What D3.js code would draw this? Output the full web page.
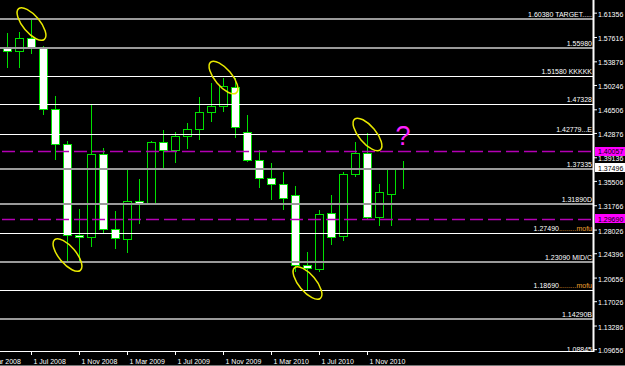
<!DOCTYPE html>
<html><head><meta charset="utf-8">
<script src="https://cdn.jsdelivr.net/npm/d3@7"></script>
<style>
html,body{margin:0;padding:0;background:#000;overflow:hidden;}
svg{display:block;}
text{font-family:"Liberation Sans",Arial,sans-serif;}
</style></head><body>
<svg id="c" width="625" height="366"></svg>
<script>
// ---- data ----
const periods = ["2008-05","2008-06","2008-07","2008-08","2008-09","2008-10","2008-11","2008-12",
  "2009-01","2009-02","2009-03","2009-04","2009-05","2009-06","2009-07","2009-08","2009-09","2009-10","2009-11","2009-12",
  "2010-01","2010-02","2010-03","2010-04","2010-05","2010-06","2010-07","2010-08","2010-09","2010-10","2010-11","2010-12",
  "2011-01","2011-02"];
const opens  = [1.5590,1.5545,1.5746,1.5592,1.4655,1.4110,1.2720,1.2689,
  1.3964,1.2812,1.2665,1.3242,1.3211,1.4148,1.4025,1.4241,1.4348,1.4609,1.4701,1.5000,
  1.4302,1.3872,1.3595,1.3503,1.3330,1.2266,1.2197,1.3057,1.2700,1.3657,1.3979,1.2996,
  1.3349,1.3728];
const highs  = [1.5820,1.5838,1.6038,1.5623,1.4855,1.4164,1.3119,1.4717,
  1.4056,1.3088,1.3749,1.3580,1.4164,1.4333,1.4302,1.4440,1.4840,1.5055,1.5132,1.5132,
  1.4563,1.4025,1.3826,1.3687,1.3472,1.2458,1.3104,1.3334,1.3687,1.4148,1.4287,1.3503,
  1.3752,1.3856];
const lows   = [1.5285,1.5285,1.5500,1.4563,1.3872,1.2320,1.2305,1.2535,
  1.2750,1.2504,1.2443,1.2889,1.3195,1.3749,1.3826,1.4041,1.4179,1.4456,1.4609,1.4210,
  1.3841,1.3442,1.3257,1.3104,1.2150,1.1875,1.2150,1.2566,1.2627,1.3611,1.2965,1.2858,
  1.2858,1.3426];
const closes = [1.5545,1.5746,1.5592,1.4655,1.4118,1.2720,1.2689,1.3964,
  1.2812,1.2673,1.3242,1.3211,1.4148,1.4025,1.4241,1.4348,1.4609,1.4701,1.5009,1.4379,
  1.3872,1.3595,1.3503,1.3288,1.2259,1.2213,1.3042,1.2689,1.3657,1.3979,1.2996,1.3380,
  1.3734,1.3750];

const priceTicks = [1.61356,1.57616,1.53876,1.50246,1.46506,1.42876,1.39136,1.35506,1.31766,
  1.28026,1.24396,1.20656,1.17026,1.13286,1.09656];
const dateTicks = ["2008-03","2008-07","2008-11","2009-03","2009-07","2009-11","2010-03","2010-07","2010-11"];
const monthNames = ["Jan","Feb","Mar","Apr","May","Jun","Jul","Aug","Sep","Oct","Nov","Dec"];

const levelValues = [1.60380,1.55980,1.51580,1.47328,1.42779,1.37335,1.31890,1.27490,1.23090,1.18690,1.14290,1.08845];
const levelNames  = ["1.60380 TARGET.....","1.55980","1.51580 KKKKK","1.47328","1.42779...E","1.37335","1.31890D",
  "1.27490|.........mofu","1.23090  MID/C","1.18690|.........mofu","1.14290B","1.08845"];
const levelMajor  = [true,true,false,false,false,true,true,false,true,false,true,false];
const dashedValues = [1.40057,1.29690];
const currentPrice = 1.37496;

const circledAt    = ["2008-07","2009-11","2008-10","2010-06","2010-11"];
const circledPrice = [1.5961,1.5139,1.2412,1.1982,1.4264];
const questionAt = "2011-02", questionPrice = 1.4095;

// ---- scales ----
const W = 625, H = 366, plotR = 593, plotB = 351;
const idx = p => { const [y,m] = p.split("-").map(Number); return (y-2008)*12 + (m-1); };
const x = d3.scaleLinear().domain([6,34]).range([31,367]);
const y = d3.scaleLinear().domain([1.60380,1.14290]).range([19,319]);

const svg = d3.select("#c");
svg.append("rect").attr("width",W).attr("height",H).attr("fill","#000");
svg.append("defs").append("clipPath").attr("id","clip")
  .append("rect").attr("x",0).attr("y",0).attr("width",plotR).attr("height",plotB);
const plot = svg.append("g").attr("clip-path","url(#clip)");

const GREEN = "#00e000";
const candles = periods.map((p,i)=>({i:idx(p),o:opens[i],h:highs[i],l:lows[i],c:closes[i]}));
const cg = plot.append("g");
candles.forEach(d=>{
  const cx = Math.round(x(d.i)) + 0.5;
  cg.append("line").attr("x1",cx).attr("x2",cx).attr("y1",Math.round(y(d.h))).attr("y2",Math.round(y(d.l)))
    .attr("stroke",GREEN).attr("stroke-width",1);
  const top = Math.round(y(Math.max(d.o,d.c))), bot = Math.round(y(Math.min(d.o,d.c)));
  cg.append("rect").attr("x",cx-4).attr("width",8).attr("y",top+0.5).attr("height",Math.max(1,bot-top))
    .attr("fill", d.c >= d.o ? "#000" : "#fff").attr("stroke",GREEN).attr("stroke-width",1);
});

// horizontal levels
levelValues.forEach((v,k)=>{
  const yy = levelMajor[k] ? Math.round(y(v)) : Math.round(y(v))+0.5;
  plot.append("line").attr("x1",0).attr("x2",plotR).attr("y1",yy).attr("y2",yy)
    .attr("stroke", levelMajor[k] ? "#9a9a9a" : "#ffffff").attr("stroke-width", levelMajor[k]?2:1);
});
dashedValues.forEach(v=>{
  const yy = Math.round(y(v))+0.5;
  plot.append("line").attr("x1",2).attr("x2",plotR).attr("y1",yy).attr("y2",yy)
    .attr("stroke","#b400b4").attr("stroke-width",1.5).attr("stroke-dasharray","13,5");
});
levelValues.forEach((v,k)=>{
  const parts = levelNames[k].split("|");
  const t = svg.append("text").attr("x",plotR-1).attr("y",Math.round(y(v))-2)
    .attr("text-anchor","end").attr("font-size",7).attr("fill","#fff");
  t.append("tspan").text(parts[0]);
  if(parts[1]) t.append("tspan").attr("fill","#f0a030").text(parts[1]);
});

// annotations
circledAt.forEach((p,k)=>{
  const cx = x(idx(p))+0.5, cy = y(circledPrice[k]);
  plot.append("ellipse").attr("cx",0).attr("cy",0).attr("rx",20).attr("ry",8.5)
    .attr("transform",`translate(${cx},${cy}) rotate(50)`)
    .attr("fill","none").attr("stroke","#e8e800").attr("stroke-width",1.5);
});
plot.append("text").attr("x",x(idx(questionAt))).attr("y",y(questionPrice))
  .attr("text-anchor","middle").attr("font-size",27).attr("fill","#ff20ff").text("?");

// frame
svg.append("line").attr("x1",0).attr("x2",plotR+1).attr("y1",plotB+0.5).attr("y2",plotB+0.5).attr("stroke","#fff");
svg.append("line").attr("x1",plotR+0.5).attr("x2",plotR+0.5).attr("y1",0).attr("y2",plotB+1).attr("stroke","#fff").attr("stroke-width",2);
svg.append("line").attr("x1",0).attr("x2",W).attr("y1",H-0.5).attr("y2",H-0.5).attr("stroke","#777");

// right axis
const ya = svg.append("g").attr("transform",`translate(${plotR+1},0)`)
  .call(d3.axisRight(y).tickValues(priceTicks).tickSize(3).tickPadding(1).tickFormat(d3.format(".5f")));
ya.select(".domain").remove();
ya.selectAll("line").attr("stroke","#fff");
ya.selectAll("text").attr("fill","#fff").attr("font-size",7).attr("font-family","Liberation Sans, Arial, sans-serif").attr("dy","0.5em");

// highlighted price labels
[[dashedValues[0],"#ff00ff","#000"],[currentPrice,"#ffffff","#000"],[dashedValues[1],"#ff00ff","#000"]].forEach(([v,bg,fg])=>{
  const yy = y(v);
  svg.append("rect").attr("x",plotR+2).attr("y",Math.round(yy-4.5)).attr("width",W-plotR-2).attr("height",9).attr("fill",bg);
  svg.append("text").attr("x",plotR+5).attr("y",Math.round(yy)+3).attr("font-size",7).attr("fill",fg).text(d3.format(".5f")(v));
});

// bottom axis
const xa = svg.append("g").attr("transform",`translate(0,${plotB+1})`)
  .call(d3.axisBottom(x).tickValues(dateTicks.map(idx)).tickSize(3).tickPadding(4)
    .tickFormat(i=>`1 ${monthNames[i%12]} ${2008+Math.floor(i/12)}`));
xa.select(".domain").remove();
xa.selectAll("line").attr("stroke","#fff");
xa.selectAll("text").attr("fill","#fff").attr("font-size",7).attr("text-anchor","start").attr("x",2)
  .attr("font-family","Liberation Sans, Arial, sans-serif");
</script>
</body></html>
